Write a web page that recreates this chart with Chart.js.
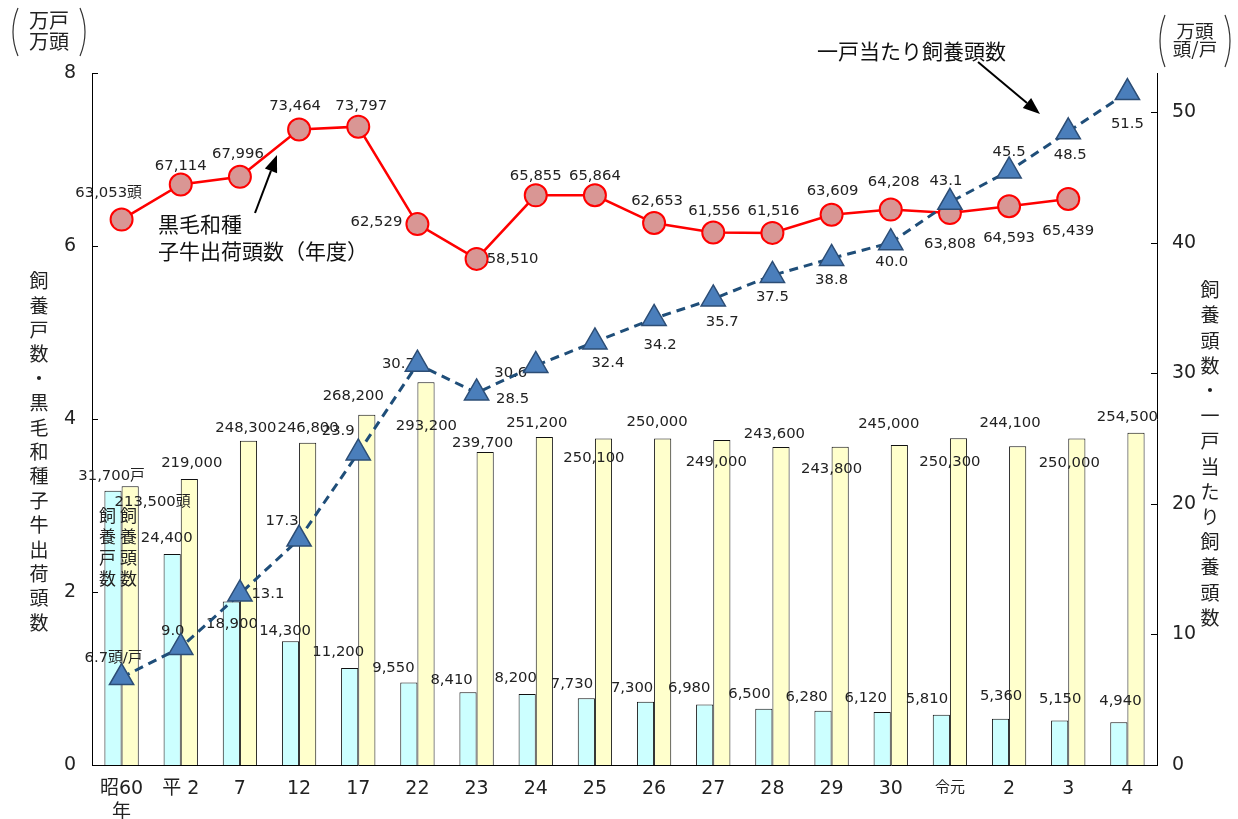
<!DOCTYPE html>
<html lang="ja">
<head>
<meta charset="utf-8">
<title>黒毛和種 飼養戸数・飼養頭数の推移</title>
<script src="https://cdn.jsdelivr.net/npm/chart.js@4.4.1/dist/chart.umd.min.js"></script>
<style>
  html, body { margin: 0; padding: 0; background: #fff; }
  #contenedor { width: 1238px; height: 819px; }
</style>
</head>
<body>
<div id="contenedor"><canvas id="grafica" width="1238" height="819"></canvas></div>
<script>
// 年次
var anios = [['昭60', '年'], '平 2', '7', '12', '17', '22', '23', '24', '25', '26', '27', '28', '29', '30', '令元', '2', '3', '4'];
// 飼養戸数（戸）
var kosu = [31700, 24400, 18900, 14300, 11200, 9550, 8410, 8200, 7730, 7300, 6980, 6500, 6280, 6120, 5810, 5360, 5150, 4940];
// 飼養頭数（頭）
var tosu = [213500, 219000, 248300, 246800, 268200, 293200, 239700, 251200, 250100, 250000, 249000, 243600, 243800, 245000, 250300, 244100, 250000, 254500];
// 黒毛和種 子牛出荷頭数（年度）
var koushi = [63053, 67114, 67996, 73464, 73797, 62529, 58510, 65855, 65864, 62653, 61556, 61516, 63609, 64208, 63808, 64593, 65439, null];
// 一戸当たり飼養頭数（頭/戸）
var ikko = [6.7, 9.0, 13.1, 17.3, 23.9, 30.7, 28.5, 30.6, 32.4, 34.2, 35.7, 37.5, 38.8, 40.0, 43.1, 45.5, 48.5, 51.5];

// ラベルの位置ずらし [dx, dy]
var offKosu = [[-10,-15],[-14,-16],[-8,23],[-14,-10],[-20,-16],[-24,-14],[-25,-12],[-20,-16],[-23,-14],[-22,-14],[-24,-16],[-23,-15],[-25,-14],[-25,-14],[-23,-16],[-8,-22],[-8,-21],[-7,-21]];
var offTosu = [[31,16],[11,-16],[6,-13],[9,-15],[-5,-19],[9,44],[6,-9],[1,-14],[-1,20],[3,-16],[3,22],[2,-13],[0,22],[-2,-21],[0,24],[1,-23],[1,25],[0,-16]];
var offKoushi = [[-13,-26],[0,-18],[-2,-23],[-4,-23],[3,-21],[-41,-2],[36,0],[0,-19],[0,-19],[3,-22],[1,-21],[1,-22],[1,-24],[3,-27],[0,31],[0,32],[0,32]];
var offIkko = [[-8,-19],[-8,-16],[28,0],[-17,-18],[-20,-22],[-19,0],[36,6],[-25,8],[13,21],[6,27],[9,23],[0,22],[0,22],[1,19],[-4,-21],[0,-19],[2,23],[0,32]];

var fuenteNum = '"DejaVu Sans", "Noto Sans CJK JP", sans-serif';
var fuenteJp = '"Noto Sans CJK JP", sans-serif';

function man(v) { return v === null ? null : v / 10000; }
function coma(v) { return v.toLocaleString('en-US'); }

var etiquetas = {
    id: 'etiquetas',
    afterDatasetDraw: function (chart, args) {
        if (args.index !== 2) return; // 子牛の線の後、三角の前に描く
        var ctx = chart.ctx;
        var x = chart.scales.x, yL = chart.scales.y, yR = chart.scales.y2;
        ctx.save();
        ctx.font = '14.8px ' + fuenteNum;
        ctx.fillStyle = '#222';
        ctx.textAlign = 'center';
        ctx.textBaseline = 'middle';
        function poner(vals, valsEje, offs, escala, texto) {
            for (var i = 0; i < vals.length; i++) {
                if (vals[i] === null || !offs[i]) continue;
                ctx.fillText(texto(vals[i], i),
                    x.getPixelForValue(i) + offs[i][0],
                    escala.getPixelForValue(valsEje[i]) + offs[i][1]);
            }
        }
        poner(kosu, kosu.map(man), offKosu, yL, function (v, i) { return coma(v) + (i === 0 ? '戸' : ''); });
        poner(tosu, tosu.map(man), offTosu, yR, function (v, i) { return coma(v) + (i === 0 ? '頭' : ''); });
        poner(koushi, koushi.map(man), offKoushi, yL, function (v, i) { return coma(v) + (i === 0 ? '頭' : ''); });
        poner(ikko, ikko, offIkko, yR, function (v, i) { return v.toFixed(1) + (i === 0 ? '頭/戸' : ''); });
        ctx.restore();
    }
};

function flecha(ctx, x1, y1, x2, y2) {
    var ang = Math.atan2(y2 - y1, x2 - x1);
    var largo = 17, ancho = 6.5;
    var bx = x2 - Math.cos(ang) * largo, by = y2 - Math.sin(ang) * largo;
    ctx.beginPath();
    ctx.moveTo(x1, y1);
    ctx.lineTo(bx, by);
    ctx.stroke();
    ctx.beginPath();
    ctx.moveTo(x2, y2);
    ctx.lineTo(bx + Math.sin(ang) * ancho, by - Math.cos(ang) * ancho);
    ctx.lineTo(bx - Math.sin(ang) * ancho, by + Math.cos(ang) * ancho);
    ctx.closePath();
    ctx.fill();
}

function vertical(ctx, texto, x, y0, paso) {
    for (var i = 0; i < texto.length; i++) {
        ctx.fillText(texto.charAt(i), x, y0 + i * paso);
    }
}

function parentesis(ctx, x, y1, y2, lado) {
    // lado: 1 = 左 "(", -1 = 右 ")"
    ctx.beginPath();
    ctx.moveTo(x + lado * 6, y1);
    ctx.quadraticCurveTo(x - lado * 4, (y1 + y2) / 2, x + lado * 6, y2);
    ctx.stroke();
}

var adornos = {
    id: 'adornos',
    afterDraw: function (chart) {
        var ctx = chart.ctx;
        var a = chart.chartArea;
        var x = chart.scales.x;
        ctx.save();
        // 目盛り（内向き）
        ctx.strokeStyle = '#000';
        ctx.lineWidth = 1;
        chart.scales.y.ticks.forEach(function (t) {
            var py = Math.round(chart.scales.y.getPixelForValue(t.value)) + 0.5;
            ctx.beginPath(); ctx.moveTo(a.left, py); ctx.lineTo(a.left + 6, py); ctx.stroke();
        });
        chart.scales.y2.ticks.forEach(function (t) {
            var py = Math.round(chart.scales.y2.getPixelForValue(t.value)) + 0.5;
            ctx.beginPath(); ctx.moveTo(a.right - 6, py); ctx.lineTo(a.right, py); ctx.stroke();
        });

        ctx.fillStyle = '#222';
        ctx.textAlign = 'center';
        ctx.textBaseline = 'middle';
        // 軸タイトル（縦書き）
        ctx.font = '19px ' + fuenteJp;
        vertical(ctx, '飼養戸数・黒毛和種子牛出荷頭数', 39, 281, 24.4);
        vertical(ctx, '飼養頭数・一戸当たり飼養頭数', 1210, 290, 25.2);
        // 棒の中の凡例
        ctx.font = '17px ' + fuenteJp;
        var c0 = x.getPixelForValue(0);
        vertical(ctx, '飼養戸数', c0 - 14, 516, 21);
        vertical(ctx, '飼養頭数', c0 + 7, 516, 21);

        // 単位
        ctx.font = '20px ' + fuenteJp;
        ctx.fillText('万戸', 49, 20);
        ctx.fillText('万頭', 49, 41);
        ctx.font = '18.5px ' + fuenteJp;
        ctx.fillText('万頭', 1195, 31);
        ctx.fillText('頭/戸', 1195, 49);
        ctx.strokeStyle = '#333';
        ctx.lineWidth = 1.2;
        parentesis(ctx, 12, 8, 56, 1);
        parentesis(ctx, 86, 8, 56, -1);
        parentesis(ctx, 1159, 15, 67, 1);
        parentesis(ctx, 1231, 15, 67, -1);

        // 注記
        ctx.textAlign = 'left';
        ctx.font = '21px ' + fuenteJp;
        ctx.fillStyle = '#111';
        ctx.fillText('黒毛和種', 158, 224);
        ctx.fillText('子牛出荷頭数（年度）', 158, 251);
        ctx.fillText('一戸当たり飼養頭数', 817, 51);
        ctx.strokeStyle = '#000';
        ctx.fillStyle = '#000';
        ctx.lineWidth = 2;
        flecha(ctx, 255, 213, 277, 155);
        flecha(ctx, 978, 62, 1040, 114);
        ctx.restore();
    }
};

var config = {
    data: {
        labels: anios,
        datasets: [{
            type: 'bar',
            label: '飼養戸数',
            data: kosu.map(man),
            yAxisID: 'y',
            backgroundColor: '#ccffff',
            borderColor: '#111',
            borderWidth: 1,
            categoryPercentage: 0.58,
            barPercentage: 1.0,
            order: 2
        }, {
            type: 'bar',
            label: '飼養頭数',
            data: tosu.map(man),
            yAxisID: 'y2',
            backgroundColor: '#ffffcc',
            borderColor: '#111',
            borderWidth: 1,
            categoryPercentage: 0.58,
            barPercentage: 1.0,
            order: 3
        }, {
            type: 'line',
            label: '子牛出荷頭数',
            data: koushi.map(man),
            yAxisID: 'y',
            borderColor: '#ff0000',
            borderWidth: 2.5,
            pointStyle: 'circle',
            pointRadius: 11,
            pointBackgroundColor: '#d99694',
            pointBorderColor: '#ff0000',
            pointBorderWidth: 2,
            tension: 0,
            order: 1
        }, {
            type: 'line',
            label: '一戸当たり飼養頭数',
            data: ikko,
            yAxisID: 'y2',
            borderColor: '#1f4e79',
            borderWidth: 3,
            borderDash: [9, 6],
            pointStyle: 'triangle',
            pointRadius: 14,
            pointBackgroundColor: '#4a7ebb',
            pointBorderColor: '#2c4d75',
            pointBorderWidth: 1.5,
            tension: 0,
            order: 0
        }]
    },
    options: {
        responsive: false,
        animation: false,
        layout: { padding: { top: 73, left: 0, right: 0, bottom: 0 } },
        plugins: {
            legend: { display: false },
            tooltip: { enabled: false }
        },
        scales: {
            x: {
                grid: { display: false, drawTicks: false },
                border: { display: true, color: '#000', width: 1 },
                ticks: {
                    padding: 12,
                    color: '#222',
                    maxRotation: 0,
                    autoSkip: false,
                    font: function (c) {
                        return c.index === 14 ? { family: fuenteJp, size: 15 } : { family: fuenteNum, size: 19, lineHeight: 1.25 };
                    }
                },
                afterFit: function (s) { s.height = 54; }
            },
            y: {
                position: 'left',
                min: 0,
                max: 8,
                grid: { display: false, drawTicks: false },
                border: { display: true, color: '#000', width: 1 },
                ticks: { stepSize: 2, padding: 16, color: '#222', font: { family: fuenteNum, size: 19 } },
                afterFit: function (s) { s.width = 92; }
            },
            y2: {
                position: 'right',
                min: 0,
                max: 53,
                grid: { display: false, drawTicks: false },
                border: { display: true, color: '#000', width: 1 },
                ticks: { stepSize: 10, padding: 15, color: '#222', font: { family: fuenteNum, size: 19 } },
                afterBuildTicks: function (s) {
                    s.ticks = s.ticks.filter(function (t) { return t.value % 10 === 0; });
                },
                afterFit: function (s) { s.width = 81; }
            }
        }
    },
    plugins: [etiquetas, adornos]
};

var grafica = new Chart(document.getElementById('grafica').getContext('2d'), config);
</script>
</body>
</html>
